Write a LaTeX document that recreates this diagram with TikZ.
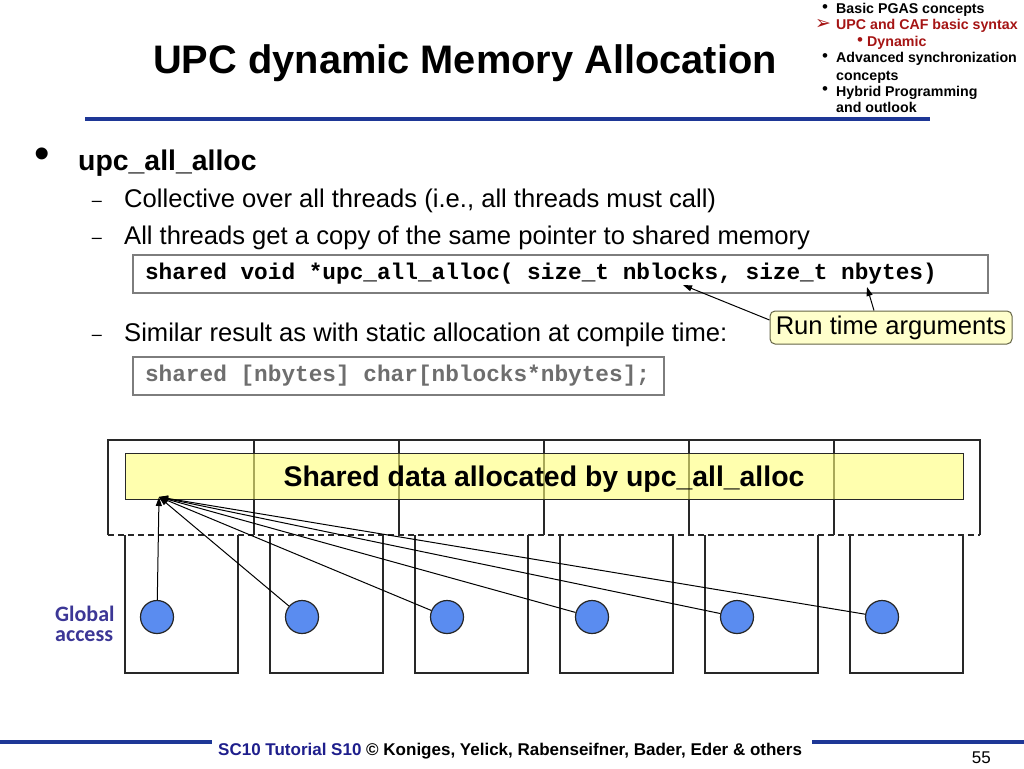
\documentclass[tikz,border=0pt]{standalone}
\usepackage{fontspec}
\setmainfont{Liberation Sans}
\newfontfamily\monofam{Liberation Mono}
\newfontfamily\calfam{Carlito}
\newfontfamily\djfam{DejaVu Sans}
\usetikzlibrary{arrows.meta}
\newcommand\fsz[1]{\fontsize{#1pt}{#1pt}\selectfont}
\newcommand\msp{\hspace*{0.6em}}
\definecolor{slideblue}{RGB}{30,55,150}
\definecolor{menured}{RGB}{165,20,20}
\definecolor{gblue}{RGB}{60,55,150}
\definecolor{ballblue}{RGB}{90,140,240}
\definecolor{bandyellow}{RGB}{255,255,120}
\definecolor{calloutyellow}{RGB}{255,255,204}
\definecolor{codegray}{RGB}{110,110,110}
\definecolor{codeframe}{RGB}{125,125,125}
\definecolor{boxline}{RGB}{40,40,40}
\definecolor{footblue}{RGB}{30,30,140}
\definecolor{calloutframe}{RGB}{100,100,70}
\begin{document}
\begin{tikzpicture}[x=1pt,y=-1pt,
  menu/.style={anchor=base west, inner sep=0pt, font=\bfseries\fsz{14.2}},
  menubullet/.style={anchor=center, inner sep=0pt, font=\fsz{17}},
  sub/.style={anchor=base west, inner sep=0pt, font=\fsz{25.6}},
  subdash/.style={anchor=base, inner sep=0pt, font=\fsz{18}},
  codebox/.style={draw=codeframe, line width=1.2pt, inner xsep=12pt, inner ysep=0pt,
     minimum height=38pt, align=left, font=\monofam\bfseries\fsz{22.75}},
  callout/.style={draw=calloutframe, fill=calloutyellow, rounded corners=5pt, line width=1pt,
     minimum width=242pt, minimum height=33pt, inner sep=1pt, font=\fsz{25.6}},
  ptr/.style={-{Triangle[length=9pt,width=6pt]}, line width=1pt, black},
  frame/.style={boxline, line width=1.3pt},
  band/.style={draw=boxline, line width=1pt, fill=bandyellow, fill opacity=0.6, text opacity=1,
     minimum width=838pt, minimum height=46pt, inner sep=0pt, text height=20.3pt, text depth=0pt,
     font=\bfseries\fsz{28.4}},
  ball/.style={circle, draw=black!85, line width=1.2pt, fill=ballblue, minimum size=33pt, inner sep=0pt},
  gtext/.style={anchor=west, inner sep=0pt, align=left, font=\calfam\bfseries\fontsize{22pt}{20pt}\selectfont, text=gblue}
]
\useasboundingbox[fill=white] (0,0) rectangle (1024,768);

% title
\node[anchor=base west, inner sep=0pt, font=\bfseries\fsz{39.8}] (title) at (153,74) {UPC dynamic Memory Allocation};
\draw[slideblue, line width=4pt] (85,119) -- (930,119);

% menu
\node[menubullet] (mb1) at (825,9) {•};
\node[menu] (m1) at (836,14) {Basic PGAS concepts};
\node[anchor=center, inner sep=0pt, text=menured, font=\djfam\fsz{19}] (marr) at (823,24) {➢};
\node[menu, text=menured] (m2) at (836,30) {UPC and CAF basic syntax};
\node[menubullet, text=menured] (mb3) at (860,42) {•};
\node[menu, text=menured] (m3) at (867,47) {Dynamic};
\node[menubullet] (mb4) at (825,58) {•};
\node[menu] (m4) at (836,63) {Advanced synchronization};
\node[menu] (m5) at (836,80) {concepts};
\node[menubullet] (mb6) at (825,91) {•};
\node[menu] (m6) at (836,96) {Hybrid Programming};
\node[menu] (m7) at (836,112) {and outlook};

% bullets
\node[anchor=center, inner sep=0pt, font=\fsz{44}] (bul) at (42,158) {•};
\node[anchor=base west, inner sep=0pt, font=\bfseries\fsz{28.4}] (b1) at (78,170) {upc\_all\_alloc};
\node[subdash] (d1) at (97,206) {–};
\node[sub] (s1) at (124,207) {Collective over all threads (i.e., all threads must call)};
\node[subdash] (d2) at (97,243) {–};
\node[sub] (s2) at (124,244) {All threads get a copy of the same pointer to shared memory};
\node[subdash] (d3) at (97,340) {–};
\node[sub] (s3) at (124,341) {Similar result as with static allocation at compile time:};

% code boxes
\node[codebox, minimum width=855pt, text width=831pt] (code1) at (560.5,274)
  {shared\msp void\msp *upc\_all\_alloc(\msp size\_t\msp nblocks,\msp size\_t\msp nbytes)};
\node[codebox, minimum width=531pt, text width=507pt, text=codegray] (code2) at (398.5,376)
  {shared\msp [nbytes]\msp char[nblocks*nbytes];};

% callout
\node[callout] (rta) at (891,327.5) {Run time arguments};
\coordinate (argnb) at (683,285);
\coordinate (argby) at (867,287);
\draw[ptr] ([yshift=7.5pt]rta.west) -- (argnb);
\draw[ptr] ([xshift=-17pt]rta.north) -- (argby);

% shared row
\draw[frame] (108,535) -- (108,440) -- (980,440) -- (980,535);
\foreach \x in {254,399,544,689,834} \draw[frame] (\x,440) -- (\x,535);
\draw[frame, dash pattern=on 6pt off 4pt] (108,535) -- (980,535);
% private boxes
\foreach \a/\b in {125/238,270/383,415/528,560/673,705/818,850/963}
  \draw[frame] (\a,535) -- (\a,673) -- (\b,673) -- (\b,535);

\node[band] (band) at (544,476) {Shared data allocated by upc\_all\_alloc};

% pointers
\foreach \i/\x in {1/157,2/302,3/447,4/592,5/737,6/882}
  \node[ball] (c\i) at (\x,617) {};
\coordinate (tip) at (159,497);
\foreach \i in {1,...,6} \draw[ptr] (c\i) -- (tip);

\node[gtext] (ga) at (55,624) {Global\\access};

% footer
\draw[slideblue, line width=4pt] (0,742) -- (212,742);
\draw[slideblue, line width=4pt] (812,742) -- (1024,742);
\node[anchor=base west, inner sep=0pt, font=\bfseries\fsz{17}] (foot) at (218,755)
  {\textcolor{footblue}{SC10 Tutorial S10} © Koniges, Yelick, Rabenseifner, Bader, Eder \& others};
\node[anchor=base east, inner sep=0pt, font=\fsz{17}] (pg) at (991,763) {55};
\end{tikzpicture}
\end{document}
